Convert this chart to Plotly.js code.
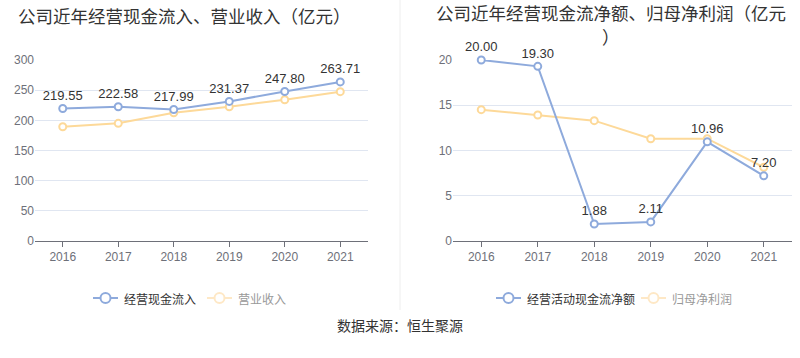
<!DOCTYPE html>
<html><head><meta charset="utf-8">
<script src="https://cdn.plot.ly/plotly-3.0.1.min.js"></script>
<style>html,body{margin:0;padding:0;background:#fff}#chart{width:800px;height:358px}</style>
</head><body><div id="chart"></div>
<script>
const years = ['2016','2017','2018','2019','2020','2021'];
const cashInflow = [219.55, 222.58, 217.99, 231.37, 247.80, 263.71];
const revenue = [189.4, 195.0, 212.6, 222.6, 234.2, 247.5];
const netCashFlow = [20.00, 19.30, 1.88, 2.11, 10.96, 7.20];
const netProfit = [14.51, 13.92, 13.30, 11.30, 11.30, 8.14];
const leftTitle = '公司近年经营现金流入、营业收入（亿元）';
const rightTitleLine1 = '公司近年经营现金流净额、归母净利润（亿元';
const rightTitleLine2 = '）';
const legendLeft = ['经营现金流入', '营业收入'];
const legendRight = ['经营活动现金流净额', '归母净利润'];
const sourceText = '数据来源：恒生聚源';

const BLUE = '#8eaadc', ORANGE = '#fdd999', FADED = '#fee8c6';
const FONT = '"Liberation Sans", Arial, "Noto Sans CJK SC", sans-serif';
const CJK = '"Noto Sans CJK SC", "Liberation Sans", sans-serif';
const W = 800, H = 358;
const px = x => x / W, py = y => 1 - y / H;

function series(x, y, xa, ya, color, labels) {
  return {
    x, y, xaxis: xa, yaxis: ya, type: 'scatter',
    mode: labels ? 'lines+markers+text' : 'lines+markers',
    line: {color, width: 2},
    marker: {symbol: 'circle', size: 7, color: '#fff', line: {color, width: 2}},
    texttemplate: labels ? '%{y:.2f}' : undefined,
    textposition: 'top center',
    textfont: {family: FONT, size: 13, color: '#333'},
    cliponaxis: false, hoverinfo: 'skip', showlegend: false
  };
}

const data = [
  series(years, revenue, 'x', 'y', ORANGE, false),
  series(years, cashInflow, 'x', 'y', BLUE, true),
  series(years, netProfit, 'x2', 'y2', ORANGE, false),
  series(years, netCashFlow, 'x2', 'y2', BLUE, true)
];

const yDom = [py(241), py(60)];
const axBase = {
  type: 'category', range: [-0.5, 5.5], showgrid: false, zeroline: false,
  showline: true, linecolor: '#6e7079', linewidth: 1,
  ticks: 'outside', ticklen: 5, tickcolor: '#6e7079',
  tickfont: {family: FONT, size: 12, color: '#6e7079'}, fixedrange: true
};
const yBase = {
  showgrid: true, gridcolor: '#e0e6f1', gridwidth: 1, zeroline: false,
  showline: false, ticks: '', tickfont: {family: FONT, size: 12, color: '#6e7079'},
  fixedrange: true
};

const shapes = [
  {type: 'line', xref: 'paper', yref: 'paper', x0: px(400), x1: px(400), y0: py(0), y1: py(310),
   line: {color: '#eeeeee', width: 1}}
];
const annotations = [
  {text: leftTitle, xref: 'paper', yref: 'paper', x: px(184), y: py(15), xanchor: 'center', yanchor: 'middle',
   showarrow: false, font: {family: CJK, size: 17.5, color: '#333'}},
  {text: rightTitleLine1, xref: 'paper', yref: 'paper', x: px(611), y: py(13), xanchor: 'center', yanchor: 'middle',
   showarrow: false, borderpad: 0, font: {family: CJK, size: 17.5, color: '#333'}},
  {text: rightTitleLine2, xref: 'paper', yref: 'paper', x: px(611), y: py(36), xanchor: 'center', yanchor: 'middle',
   showarrow: false, borderpad: 0, font: {family: CJK, size: 17.5, color: '#333'}},
  {text: sourceText, xref: 'paper', yref: 'paper', x: px(400), y: py(325), xanchor: 'center', yanchor: 'middle',
   showarrow: false, font: {family: CJK, size: 14, color: '#333'}}
];

function legendItem(x, label, color, textColor) {
  const y = 298;
  shapes.push({type: 'line', xref: 'paper', yref: 'paper', x0: px(x), x1: px(x + 25), y0: py(y), y1: py(y),
    line: {color, width: 2}});
  shapes.push({type: 'circle', xref: 'paper', yref: 'paper', x0: px(x + 7.5), x1: px(x + 17.5), y0: py(y - 5), y1: py(y + 5),
    line: {color, width: 2}, fillcolor: '#fff'});
  annotations.push({text: label, xref: 'paper', yref: 'paper', x: px(x + 29), y: py(y), xanchor: 'left', yanchor: 'middle',
    showarrow: false, font: {family: CJK, size: 12, color: textColor}});
}
legendItem(93, legendLeft[0], BLUE, '#333');
legendItem(207, legendLeft[1], FADED, '#999');
legendItem(496, legendRight[0], BLUE, '#333');
legendItem(641, legendRight[1], FADED, '#999');

const layout = {
  width: W, height: H, margin: {l: 0, r: 0, t: 0, b: 0},
  paper_bgcolor: '#fff', plot_bgcolor: '#fff', showlegend: false,
  xaxis: Object.assign({}, axBase, {domain: [px(35), px(368)], anchor: 'y'}),
  yaxis: Object.assign({}, yBase, {domain: yDom, range: [0, 300], dtick: 50, anchor: 'x'}),
  xaxis2: Object.assign({}, axBase, {domain: [px(453), px(792)], anchor: 'y2'}),
  yaxis2: Object.assign({}, yBase, {domain: yDom, range: [0, 20], dtick: 5, anchor: 'x2'}),
  shapes, annotations
};

Plotly.newPlot('chart', data, layout, {staticPlot: true, displayModeBar: false});
</script></body></html>
